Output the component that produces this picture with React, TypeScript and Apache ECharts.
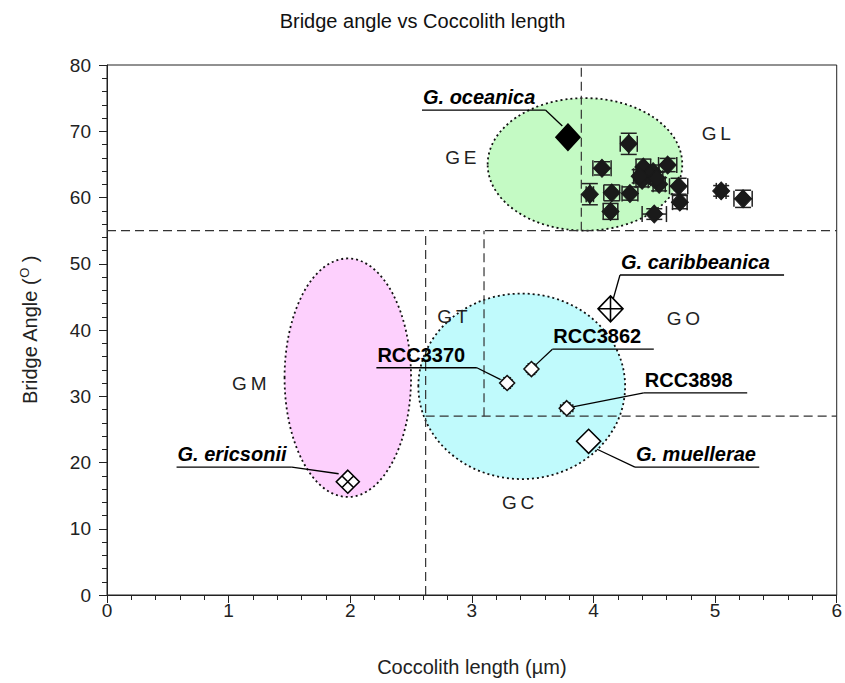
import React, { useEffect, useRef } from "react";
import * as echarts from "echarts";

const chartTitle = "Bridge angle vs Coccolith length";
const xAxisName = "Coccolith length (µm)";

const xMin = 0;
const xMax = 6;
const xInterval = 1;
const yMin = 0;
const yMax = 80;
const yInterval = 10;

// GL morphotype measurements (mean ± error)
const glX = [4.29, 4.07, 4.61, 4.41, 4.49, 4.40, 4.54, 4.70, 3.97, 4.15, 4.30, 4.14, 4.50, 4.71, 5.05, 5.23, 4.46, 4.38, 4.52];
const glY = [68.1, 64.4, 64.9, 64.6, 63.9, 62.6, 62.0, 61.7, 60.5, 60.7, 60.6, 57.9, 57.5, 59.3, 61.0, 59.8, 63.4, 63.2, 62.9];
const glXErr = [0.07, 0.075, 0.075, 0.06, 0.05, 0.05, 0.05, 0.075, 0.03, 0.065, 0.065, 0.06, 0.1, 0.06, 0.04, 0.075, 0.05, 0.05, 0.05];
const glYErr = [1.6, 1.0, 1.0, 1.2, 1.0, 1.0, 1.0, 1.2, 1.6, 1.2, 1.0, 1.2, 0.8, 1.0, 0.8, 1.3, 1.0, 1.0, 0.9];

// RCC strains
const rccNames = ["RCC3370", "RCC3862", "RCC3898"];
const rccX = [3.29, 3.49, 3.78];
const rccY = [32.0, 34.1, 28.2];
const rccXErr = [0.04, 0.04, 0.05];
const rccYErr = [0.8, 0.8, 0.8];

// Reference species
const speciesNames = ["G. oceanica", "G. caribbeanica", "G. muellerae", "G. ericsonii"];
const speciesX = [3.79, 4.14, 3.96, 1.98];
const speciesY = [69.1, 43.2, 23.2, 17.1];

// Morphogroup labels
const groupNames = ["GE", "GL", "GM", "GT", "GO", "GC"];
const groupX = [2.91, 5.01, 1.17, 2.84, 4.74, 3.38];
const groupY = [66.1, 69.7, 32.0, 42.0, 41.8, 14.0];

// Morphogroup envelopes (centre, half-width, half-height)
const envelopeCx = [3.93, 1.98, 3.41];
const envelopeCy = [65.0, 32.8, 31.5];
const envelopeRx = [0.8, 0.52, 0.85];
const envelopeRy = [10.0, 18.0, 14.0];

// Boundary (dashed) lines
const boundaryX1 = [0, 3.9, 2.62, 2.62, 3.1];
const boundaryY1 = [55, 55, 0, 27, 27];
const boundaryX2 = [6, 3.9, 2.62, 6, 3.1];
const boundaryY2 = [55, 80, 55, 27, 55];

// ---- layout / style ----
const FONT = "Liberation Sans, Arial, Helvetica, sans-serif";
const envelopeFill = ["#c4fac4", "#fdd0fd", "#c0fafc"];

const callouts = [
  { text: "G. oceanica", italic: true, x1: 2.59, x2: 3.605, y: 73.2, from: "right", ex: 3.744, ey: 70.8 },
  { text: "G. caribbeanica", italic: true, x1: 4.218, x2: 5.567, y: 48.3, from: "left", ex: 4.161, ey: 44.6 },
  { text: "RCC3862", italic: false, x1: 3.662, x2: 4.496, y: 37.1, from: "left", ex: 3.523, ey: 34.7 },
  { text: "RCC3370", italic: false, x1: 2.215, x2: 3.041, y: 34.3, from: "right", ex: 3.237, ey: 32.5 },
  { text: "RCC3898", italic: false, x1: 4.414, x2: 5.264, y: 30.5, from: "left", ex: 3.83, ey: 28.4 },
  { text: "G. muellerae", italic: true, x1: 4.341, x2: 5.363, y: 19.3, from: "left", ex: 4.03, ey: 22.0 },
  { text: "G. ericsonii", italic: true, x1: 0.572, x2: 1.52, y: 19.3, from: "right", ex: 1.905, ey: 18.3 },
];

const speciesSymbols = [
  "diamond",
  "path://M0,-10L10,0L0,10L-10,0Z M0,-10L0,10 M-10,0L10,0",
  "diamond",
  "path://M0,-10L10,0L0,10L-10,0Z M-5,-5L5,5 M5,-5L-5,5",
];
const speciesFill = ["#000000", "#ffffff", "#ffffff", "#ffffff"];
const speciesSize = [[24, 26], [25, 26], [24, 24], [23, 23]];

export default function App() {
  const ref = useRef<HTMLDivElement>(null);

  useEffect(() => {
    if (!ref.current) return;
    const chart = echarts.init(ref.current, undefined, { renderer: "svg" });

    const envelopeData = envelopeCx.map((cx, i) => [cx, envelopeCy[i], envelopeRx[i], envelopeRy[i]]);
    const boundaryData = boundaryX1.map((x, i) => [x, boundaryY1[i], boundaryX2[i], boundaryY2[i]]);
    const errData = [
      ...glX.map((x, i) => [x, glY[i], glXErr[i], glYErr[i], 8]),
      ...rccX.map((x, i) => [x, rccY[i], rccXErr[i], rccYErr[i], 4]),
    ];
    const calloutData = callouts.map((c) => [c.x1, c.y, c.x2, c.ex, c.ey]);

    const option: any = {
      animation: false,
      backgroundColor: "#ffffff",
      title: {
        text: chartTitle,
        left: "center",
        top: 6,
        textStyle: { fontFamily: FONT, fontSize: 20, fontWeight: "normal", color: "#111" },
      },
      grid: {
        left: 107,
        right: 1,
        top: 65,
        bottom: 88,
        show: true,
        borderColor: "#222",
        borderWidth: 1,
        backgroundColor: "transparent",
      },
      xAxis: {
        type: "value",
        min: xMin,
        max: xMax,
        interval: xInterval,
        name: xAxisName,
        nameLocation: "middle",
        nameGap: 62,
        nameTextStyle: { fontFamily: FONT, fontSize: 20, color: "#222" },
        axisLine: { show: true, onZero: false, lineStyle: { color: "#222", width: 1 } },
        axisTick: { show: true, length: 8, lineStyle: { color: "#222" } },
        minorTick: { show: true, splitNumber: 5, length: 5, lineStyle: { color: "#222" } },
        splitLine: { show: false },
        axisLabel: { fontFamily: FONT, fontSize: 19, color: "#222", margin: 6 },
      },
      yAxis: {
        type: "value",
        min: yMin,
        max: yMax,
        interval: yInterval,
        name: "{n|Bridge Angle (}{s|O}{n| )}",
        nameLocation: "middle",
        nameGap: 66,
        nameTextStyle: {
          fontFamily: FONT,
          fontSize: 20,
          color: "#222",
          rich: {
            n: { fontFamily: FONT, fontSize: 20, color: "#222" },
            s: { fontFamily: FONT, fontSize: 13, color: "#222", verticalAlign: "top", padding: [0, 0, 10, 0] },
          },
        },
        axisLine: { show: true, onZero: false, lineStyle: { color: "#222", width: 1 } },
        axisTick: { show: true, length: 8, lineStyle: { color: "#222" } },
        minorTick: { show: true, splitNumber: 5, length: 5, lineStyle: { color: "#222" } },
        splitLine: { show: false },
        axisLabel: { fontFamily: FONT, fontSize: 19, color: "#222", margin: 16 },
      },
      series: [
        {
          type: "custom",
          name: "envelopes",
          z: 1,
          clip: false,
          data: envelopeData,
          renderItem: (params: any, api: any) => {
            const i = params.dataIndex;
            const c = api.coord([api.value(0), api.value(1)]);
            const s = api.size([api.value(2), api.value(3)]);
            return {
              type: "ellipse",
              shape: { cx: c[0], cy: c[1], rx: s[0], ry: s[1] },
              style: { fill: envelopeFill[i], stroke: "#111", lineWidth: 1.8, lineDash: [2, 3] },
            };
          },
        },
        {
          type: "custom",
          name: "boundaries",
          z: 2,
          data: boundaryData,
          renderItem: (params: any, api: any) => {
            const a = api.coord([api.value(0), api.value(1)]);
            const b = api.coord([api.value(2), api.value(3)]);
            return {
              type: "line",
              shape: { x1: a[0], y1: a[1], x2: b[0], y2: b[1] },
              style: { stroke: "#333", lineWidth: 1.2, lineDash: [9, 5] },
            };
          },
        },
        {
          type: "custom",
          name: "callouts",
          z: 3,
          clip: false,
          data: calloutData,
          renderItem: (params: any, api: any) => {
            const c = callouts[params.dataIndex];
            const p1 = api.coord([c.x1, c.y]);
            const p2 = api.coord([c.x2, c.y]);
            const e = api.coord([c.ex, c.ey]);
            const start = c.from === "right" ? p2 : p1;
            return {
              type: "group",
              children: [
                {
                  type: "polyline",
                  shape: { points: [[p1[0], p1[1]], [p2[0], p2[1]]] },
                  style: { stroke: "#000", lineWidth: 1.3, fill: null },
                },
                {
                  type: "line",
                  shape: { x1: start[0], y1: start[1], x2: e[0], y2: e[1] },
                  style: { stroke: "#000", lineWidth: 1.3 },
                },
                {
                  type: "text",
                  style: {
                    text: c.text,
                    x: p1[0] + 1,
                    y: p1[1] - 3,
                    fill: "#000",
                    font: `${c.italic ? "italic " : ""}bold 20px ${FONT}`,
                    align: "left",
                    verticalAlign: "bottom",
                    textAlign: "left",
                    textVerticalAlign: "bottom",
                  },
                },
              ],
            };
          },
        },
        {
          type: "custom",
          name: "groups",
          z: 3,
          data: groupX.map((x, i) => [x, groupY[i]]),
          renderItem: (params: any, api: any) => {
            const p = api.coord([api.value(0), api.value(1)]);
            return {
              type: "text",
              style: {
                text: groupNames[params.dataIndex].split("").join("\u2009"),
                x: p[0],
                y: p[1],
                fill: "#222",
                font: `19px ${FONT}`,
                align: "center",
                verticalAlign: "middle",
                textAlign: "center",
                textVerticalAlign: "middle",
              },
            };
          },
        },
        {
          type: "custom",
          name: "errorbars",
          z: 4,
          data: errData,
          renderItem: (params: any, api: any) => {
            const x = api.value(0);
            const y = api.value(1);
            const dx = api.value(2);
            const dy = api.value(3);
            const cap = api.value(4);
            const l = api.coord([x - dx, y]);
            const r = api.coord([x + dx, y]);
            const t = api.coord([x, y + dy]);
            const b = api.coord([x, y - dy]);
            const st = { stroke: "#222", lineWidth: 1.5 };
            return {
              type: "group",
              children: [
                { type: "line", shape: { x1: l[0], y1: l[1], x2: r[0], y2: r[1] }, style: st },
                { type: "line", shape: { x1: t[0], y1: t[1], x2: b[0], y2: b[1] }, style: st },
                { type: "line", shape: { x1: l[0], y1: l[1] - cap, x2: l[0], y2: l[1] + cap }, style: st },
                { type: "line", shape: { x1: r[0], y1: r[1] - cap, x2: r[0], y2: r[1] + cap }, style: st },
                { type: "line", shape: { x1: t[0] - cap, y1: t[1], x2: t[0] + cap, y2: t[1] }, style: st },
                { type: "line", shape: { x1: b[0] - cap, y1: b[1], x2: b[0] + cap, y2: b[1] }, style: st },
              ],
            };
          },
        },
        {
          type: "scatter",
          name: "GL",
          z: 5,
          symbol: "diamond",
          symbolSize: [17, 18],
          itemStyle: { color: "#1a1a1a", borderColor: "#1a1a1a", borderWidth: 1, opacity: 1 },
          data: glX.map((x, i) => [x, glY[i]]),
        },
        {
          type: "scatter",
          name: "RCC",
          z: 5,
          symbol: "diamond",
          symbolSize: [15, 15],
          itemStyle: { color: "#ffffff", borderColor: "#111", borderWidth: 1.5, opacity: 1 },
          data: rccX.map((x, i) => ({ name: rccNames[i], value: [x, rccY[i]] })),
        },
        {
          type: "scatter",
          name: "species",
          z: 6,
          data: speciesX.map((x, i) => ({
            name: speciesNames[i],
            value: [x, speciesY[i]],
            symbol: speciesSymbols[i],
            symbolSize: speciesSize[i],
            itemStyle: { color: speciesFill[i], borderColor: "#000", borderWidth: 1.6, opacity: 1 },
          })),
        },
      ],
    };

    chart.setOption(option);
    return () => chart.dispose();
  }, []);

  return (
    <div
      ref={ref}
      style={{ position: "fixed", left: 0, top: 0, width: 845, height: 683, background: "#fff" }}
    />
  );
}
